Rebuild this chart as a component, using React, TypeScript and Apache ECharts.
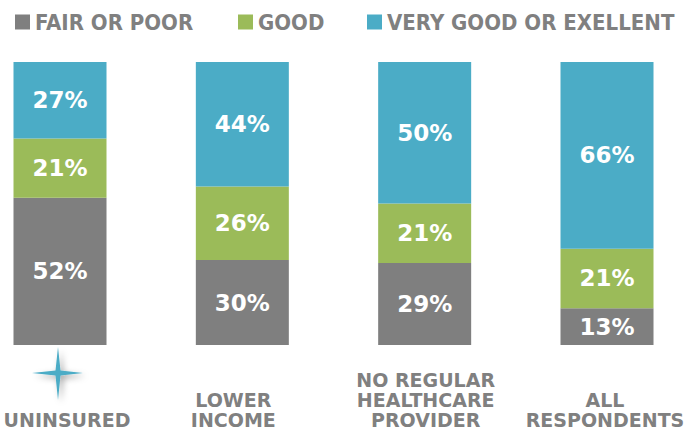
import React, { useEffect, useRef } from "react";
import * as echarts from "echarts";

const categories = ["UNINSURED", "LOWER\nINCOME", "NO REGULAR\nHEALTHCARE\nPROVIDER", "ALL\nRESPONDENTS"];
const seriesNames = ["FAIR OR POOR", "GOOD", "VERY GOOD OR EXELLENT"];
const fairOrPoor = [52, 30, 29, 13];
const good = [21, 26, 21, 21];
const veryGood = [27, 44, 50, 66];
const colors = ["#7f7f7f", "#9bbb59", "#4bacc6"];

// rich style names used to nudge each axis label like the reference
const labelStyleKeys = ["r", "l", "c", "m"];

export default function App() {
  const ref = useRef<HTMLDivElement>(null);
  useEffect(() => {
    if (!ref.current) return;
    const chart = echarts.init(ref.current, null, { renderer: "svg" });
    const legendFont = {
      color: "#808080",
      fontSize: 22,
      fontWeight: "bold" as const,
      fontFamily: "'DejaVu Sans Condensed', 'DejaVu Sans', sans-serif",
    };
    const legendLefts = [15, 238, 367];
    const values = [fairOrPoor, good, veryGood];
    const baseLabel = {
      color: "#808080",
      fontSize: 19,
      fontWeight: "bold" as const,
      fontFamily: "'DejaVu Sans', sans-serif",
      lineHeight: 20,
    };
    chart.setOption({
      animation: false,
      legend: seriesNames.map((n, i) => ({
        data: [n],
        left: legendLefts[i],
        top: 11,
        itemWidth: 15,
        itemHeight: 15,
        itemGap: 0,
        icon: "rect",
        textStyle: legendFont,
        padding: 0,
        selectedMode: false,
      })),
      grid: { left: 60, right: 77, top: 62, bottom: 88, outerBoundsMode: "none", containLabel: false },
      xAxis: {
        type: "category",
        data: categories,
        boundaryGap: false,
        axisLine: { show: false },
        axisTick: { show: false },
        axisLabel: {
          interval: 0,
          ...baseLabel,
          verticalAlign: "bottom",
          margin: 85,
          align: "center",
          formatter: (v: string, idx: number) =>
            v
              .split("\n")
              .map((line) => `{${labelStyleKeys[idx]}|${line}}`)
              .join("\n"),
          rich: {
            r: { ...baseLabel, padding: [0, 0, 0, 14] },
            l: { ...baseLabel, padding: [0, 18, 0, 0] },
            c: { ...baseLabel, padding: [0, 0, 0, 2] },
            m: { ...baseLabel, padding: [0, 4, 0, 0] },
          },
        },
      },
      yAxis: { type: "value", min: 0, max: 100, show: false, splitLine: { show: false } },
      series: seriesNames.map((n, i) => ({
        name: n,
        type: "bar",
        stack: "total",
        barWidth: 93,
        data: values[i],
        itemStyle: { color: colors[i] },
        label: {
          show: true,
          position: "inside",
          formatter: "{c}%",
          color: "#ffffff",
          fontSize: 23,
          fontWeight: "bold",
          fontFamily: "'DejaVu Sans', sans-serif",
        },
      })),
      graphic: [
        {
          type: "polygon",
          shape: {
            points: [
              [58, 347],
              [60.5, 370.5],
              [83, 373],
              [60.5, 375.5],
              [58, 400],
              [55.5, 375.5],
              [32, 373],
              [55.5, 370.5],
            ],
          },
          style: {
            fill: "#4bacc6",
            shadowBlur: 6,
            shadowColor: "rgba(0,0,0,0.35)",
            shadowOffsetX: 3,
            shadowOffsetY: 3,
          },
        },
      ],
    });
    return () => chart.dispose();
  }, []);
  return (
    <div
      ref={ref}
      style={{ position: "fixed", left: 0, top: 0, width: 684, height: 433, background: "#fff" }}
    />
  );
}
